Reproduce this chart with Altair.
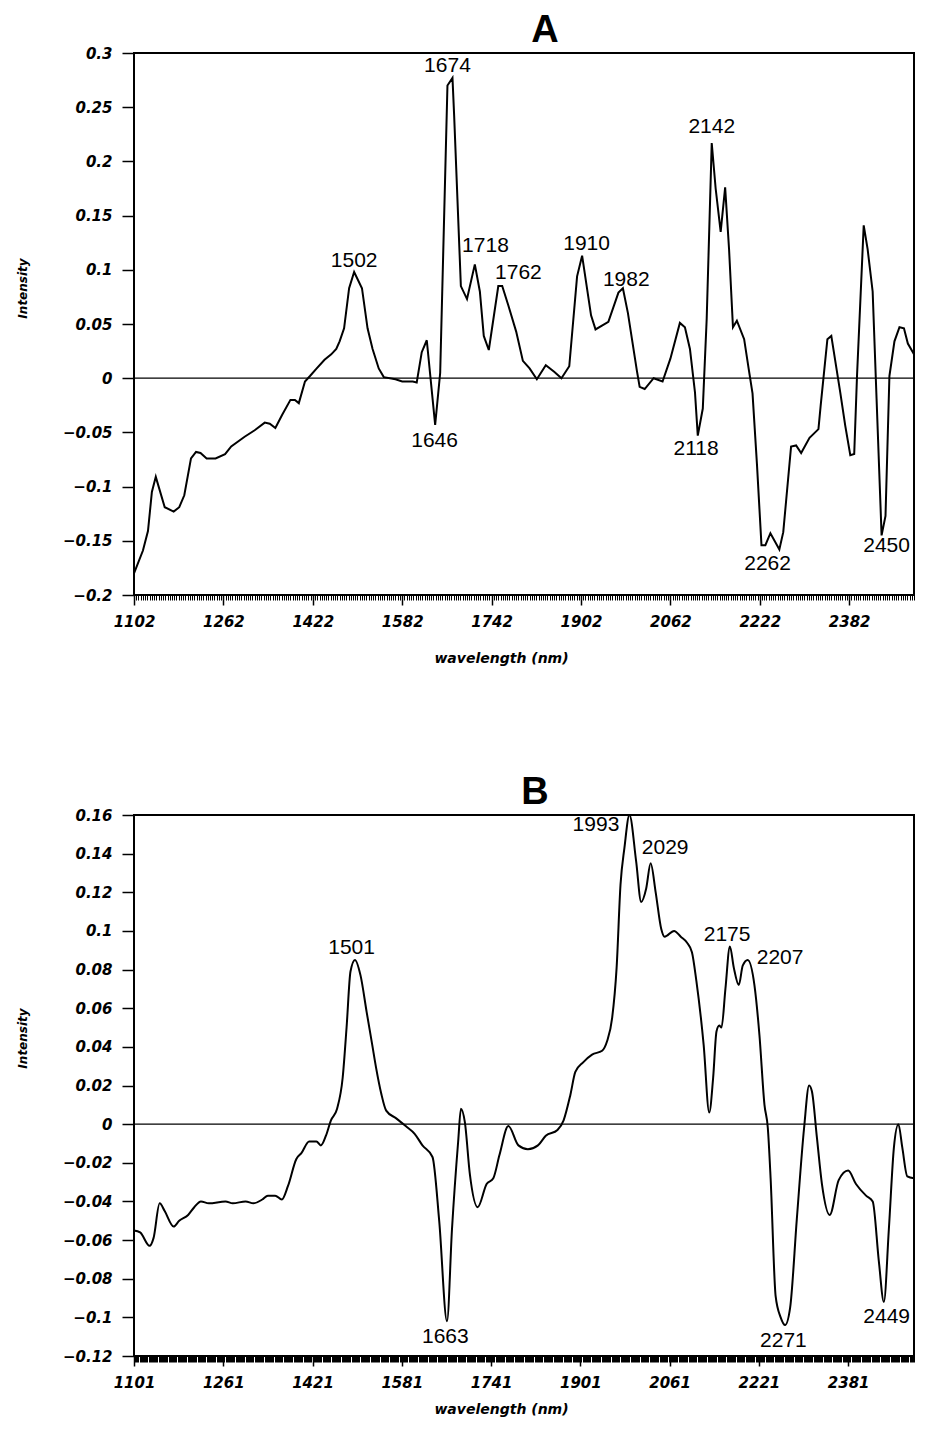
import altair as alt
import pandas as pd

# ---- spectrum A ----
wl_a = [1102, 1118, 1127, 1134, 1141, 1157, 1173, 1183, 1192, 1204, 1213, 1221, 1232, 1248,
        1265, 1276, 1300, 1318, 1336, 1345, 1355, 1367, 1382, 1390, 1397, 1408, 1417, 1429,
        1443, 1455, 1464, 1470, 1478, 1487, 1496, 1510, 1520, 1529, 1540, 1549, 1570, 1582,
        1601, 1608, 1617, 1626, 1641, 1650, 1663, 1672, 1675, 1687, 1698, 1712, 1721, 1728,
        1737, 1754, 1761, 1772, 1786, 1798, 1810, 1823, 1839, 1854, 1867, 1881, 1895, 1904,
        1920, 1928, 1951, 1969, 1977, 1986, 2002, 2007, 2016, 2032, 2048, 2062, 2079, 2088,
        2097, 2106, 2111, 2120, 2127, 2136, 2143, 2152, 2160, 2167, 2174, 2181, 2194, 2202,
        2209, 2217, 2225, 2232, 2241, 2257, 2264, 2278, 2287, 2296, 2311, 2327, 2331, 2343,
        2350, 2366, 2375, 2384, 2391, 2396, 2408, 2415, 2424, 2431, 2440, 2447, 2454, 2463,
        2472, 2480, 2487, 2498]
int_a = [-0.180, -0.159, -0.141, -0.105, -0.091, -0.119, -0.123, -0.119, -0.108, -0.074, -0.068,
         -0.069, -0.074, -0.074, -0.070, -0.063, -0.054, -0.048, -0.041, -0.042, -0.046, -0.034,
         -0.020, -0.020, -0.023, -0.003, 0.002, 0.009, 0.017, 0.022, 0.027, 0.034, 0.046, 0.083,
         0.098, 0.083, 0.046, 0.027, 0.009, 0.001, -0.001, -0.003, -0.003, -0.004, 0.024, 0.035,
         -0.043, 0.005, 0.270, 0.277, 0.242, 0.085, 0.073, 0.105, 0.080, 0.039, 0.026, 0.085,
         0.085, 0.067, 0.043, 0.016, 0.009, -0.001, 0.012, 0.006, 0.000, 0.011, 0.094, 0.113,
         0.058, 0.045, 0.052, 0.079, 0.083, 0.060, 0.007, -0.008, -0.010, 0.000, -0.003, 0.018,
         0.051, 0.047, 0.027, -0.013, -0.053, -0.028, 0.055, 0.217, 0.175, 0.135, 0.176, 0.119,
         0.047, 0.053, 0.036, 0.009, -0.014, -0.080, -0.154, -0.154, -0.143, -0.158, -0.142,
         -0.063, -0.062, -0.069, -0.055, -0.047, -0.025, 0.036, 0.039, -0.013, -0.044, -0.071,
         -0.070, 0.002, 0.141, 0.119, 0.080, -0.019, -0.145, -0.127, 0.002, 0.034, 0.047, 0.046,
         0.032, 0.022]
peak_txt_a = ["1502", "1674", "1718", "1762", "1910", "1982", "1646", "2118", "2142", "2262", "2450"]
peak_wl_a = [1496, 1663, 1731, 1790, 1912, 1983, 1640, 2108, 2136, 2236, 2449]
peak_int_a = [0.108, 0.288, 0.122, 0.097, 0.124, 0.091, -0.058, -0.065, 0.232, -0.171, -0.155]
xticks_a = [1102, 1262, 1422, 1582, 1742, 1902, 2062, 2222, 2382]
yticks_a = [-0.2, -0.15, -0.1, -0.05, 0, 0.05, 0.1, 0.15, 0.2, 0.25, 0.3]

# ---- spectrum B ----
wl_b = [1101, 1112, 1129, 1136, 1147, 1156, 1172, 1182, 1198, 1209, 1221, 1235, 1265, 1278,
        1301, 1315, 1331, 1341, 1354, 1366, 1377, 1392, 1401, 1415, 1428, 1436, 1445, 1454,
        1465, 1475, 1482, 1489, 1497, 1507, 1518, 1528, 1535, 1544, 1553, 1571, 1588, 1604,
        1618, 1636, 1648, 1662, 1671, 1682, 1687, 1694, 1703, 1717, 1733, 1745, 1756, 1772,
        1790, 1807, 1825, 1839, 1860, 1871, 1883, 1892, 1906, 1922, 1940, 1949, 1958, 1966,
        1973, 1980, 1989, 2001, 2010, 2019, 2027, 2036, 2046, 2052, 2069, 2081, 2092, 2101,
        2109, 2122, 2132, 2139, 2145, 2150, 2154, 2161, 2169, 2176, 2185, 2192, 2201, 2213,
        2222, 2231, 2237, 2242, 2251, 2260, 2268, 2277, 2289, 2302, 2311, 2316, 2325, 2334,
        2348, 2364, 2381, 2395, 2413, 2425, 2436, 2445, 2454, 2463, 2471, 2478, 2487, 2499]
int_b = [-0.055, -0.056, -0.063, -0.059, -0.041, -0.045, -0.053, -0.050, -0.047, -0.043, -0.040,
         -0.041, -0.040, -0.041, -0.040, -0.041, -0.039, -0.037, -0.037, -0.039, -0.032, -0.018,
         -0.015, -0.009, -0.009, -0.011, -0.006, 0.002, 0.008, 0.024, 0.050, 0.079, 0.085, 0.077,
         0.058, 0.041, 0.029, 0.016, 0.007, 0.003, -0.001, -0.005, -0.011, -0.017, -0.050, -0.102,
         -0.054, -0.009, 0.008, 0.001, -0.026, -0.043, -0.031, -0.028, -0.016, -0.001, -0.011,
         -0.013, -0.011, -0.006, -0.003, 0.002, 0.015, 0.027, 0.032, 0.036, 0.038, 0.043, 0.055,
         0.081, 0.124, 0.143, 0.160, 0.136, 0.115, 0.122, 0.135, 0.120, 0.101, 0.097, 0.100,
         0.097, 0.094, 0.089, 0.074, 0.041, 0.006, 0.024, 0.048, 0.051, 0.050, 0.070, 0.092,
         0.081, 0.072, 0.082, 0.085, 0.072, 0.046, 0.010, -0.002, -0.028, -0.089, -0.100, -0.104,
         -0.095, -0.049, -0.002, 0.020, 0.017, -0.007, -0.031, -0.047, -0.029, -0.024, -0.031,
         -0.037, -0.040, -0.071, -0.092, -0.054, -0.012, 0.000, -0.012, -0.027, -0.028]
peak_txt_b = ["1501", "1663", "1993", "2029", "2175", "2207", "2271", "2449"]
peak_wl_b = [1491, 1659, 1929, 2053, 2164, 2259, 2265, 2450]
peak_int_b = [0.091, -0.110, 0.155, 0.143, 0.098, 0.086, -0.112, -0.100]
xticks_b = [1101, 1261, 1421, 1581, 1741, 1901, 2061, 2221, 2381]
yticks_b = [-0.12, -0.1, -0.08, -0.06, -0.04, -0.02, 0, 0.02, 0.04, 0.06, 0.08, 0.1, 0.12, 0.14, 0.16]

AXIS_FONT = "DejaVu Sans"


def spectrum(wl, inten, ptxt, pwl, pint, xdom, ydom, xticks, yticks, minor, minor_size,
             title, title_dx, interp, h, ytitle_y, xtitle_y):
    df = pd.DataFrame({"wl": wl, "inten": inten})
    peaks = pd.DataFrame({"txt": ptxt, "wl": pwl, "inten": pint})
    xscale = alt.Scale(domain=xdom, nice=False, zero=False)
    yscale = alt.Scale(domain=ydom, nice=False, zero=False)
    yaxis = alt.Axis(values=yticks, tickCount=len(yticks), format="~g", title="Intensity",
                     tickSize=12, tickWidth=1.5, labelPadding=10, domain=False, grid=False,
                     labelOverlap=False, titleX=-112, titleY=ytitle_y, titleBaseline="middle",
                     titleFontSize=12)

    line = alt.Chart(df).mark_line(color="black", strokeWidth=2, interpolate=interp).encode(
        x=alt.X("wl:Q", scale=xscale,
                axis=alt.Axis(values=xticks, tickCount=len(xticks), format="d", orient="bottom",
                              title="wavelength (nm)", tickSize=10, tickWidth=1.5, labelPadding=9,
                              domain=False, grid=False, labelFlush=False, labelOverlap=False,
                              titleX=367, titleY=xtitle_y, titleBaseline="middle", titleFontSize=14)),
        y=alt.Y("inten:Q", scale=yscale, axis=yaxis),
    )
    zero = alt.Chart(pd.DataFrame({"z": [0]})).mark_rule(color="black", strokeWidth=1.3).encode(
        y=alt.datum(0)
    )
    labels = alt.Chart(peaks).mark_text(font="Liberation Sans", fontSize=21, color="black",
                                        baseline="middle", align="center").encode(
        x=alt.X("wl:Q", scale=xscale,
                axis=alt.Axis(values=minor, tickCount=len(minor), labels=False, title=None,
                              orient="bottom", grid=False, tickSize=minor_size, tickWidth=1,
                              domain=False)),
        y=alt.Y("inten:Q", scale=yscale, axis=yaxis),
        text="txt:N",
    )
    return (
        alt.layer(line, zero, labels)
        .resolve_axis(x="independent")
        .properties(
            width=780, height=h,
            title=alt.TitleParams(title, font="Liberation Sans", fontSize=38, fontWeight="bold",
                                  color="black", anchor="middle", dx=title_dx, offset=-4,
                                  frame="group"),
        )
    )


chart_a = spectrum(wl_a, int_a, peak_txt_a, peak_wl_a, peak_int_a, [1102, 2498], [-0.2, 0.3],
                   xticks_a, yticks_a, list(range(1102, 2499, 4)), 5, "A", 21, "linear", 542, 235, 63)
chart_b = spectrum(wl_b, int_b, peak_txt_b, peak_wl_b, peak_int_b, [1101, 2499], [-0.12, 0.16],
                   xticks_b, yticks_b, list(range(1101, 2500, 2)), 6, "B", 11, "monotone", 541, 223, 53)

chart = (
    alt.vconcat(chart_a, chart_b, spacing=107)
    .properties(padding={"left": 7, "top": 3, "right": 0, "bottom": 0}, background="white")
    .configure_view(stroke="black", strokeWidth=2)
    .configure_axis(labelFont=AXIS_FONT, labelFontStyle="italic", labelFontWeight="bold",
                    labelFontSize=15, labelColor="black", titleFont=AXIS_FONT,
                    titleFontStyle="italic", titleFontWeight="bold", titleColor="black",
                    tickColor="black", grid=False, labelOverlap=False)
)

chart.save("out.html", embed_options={"renderer": "svg", "actions": False})
